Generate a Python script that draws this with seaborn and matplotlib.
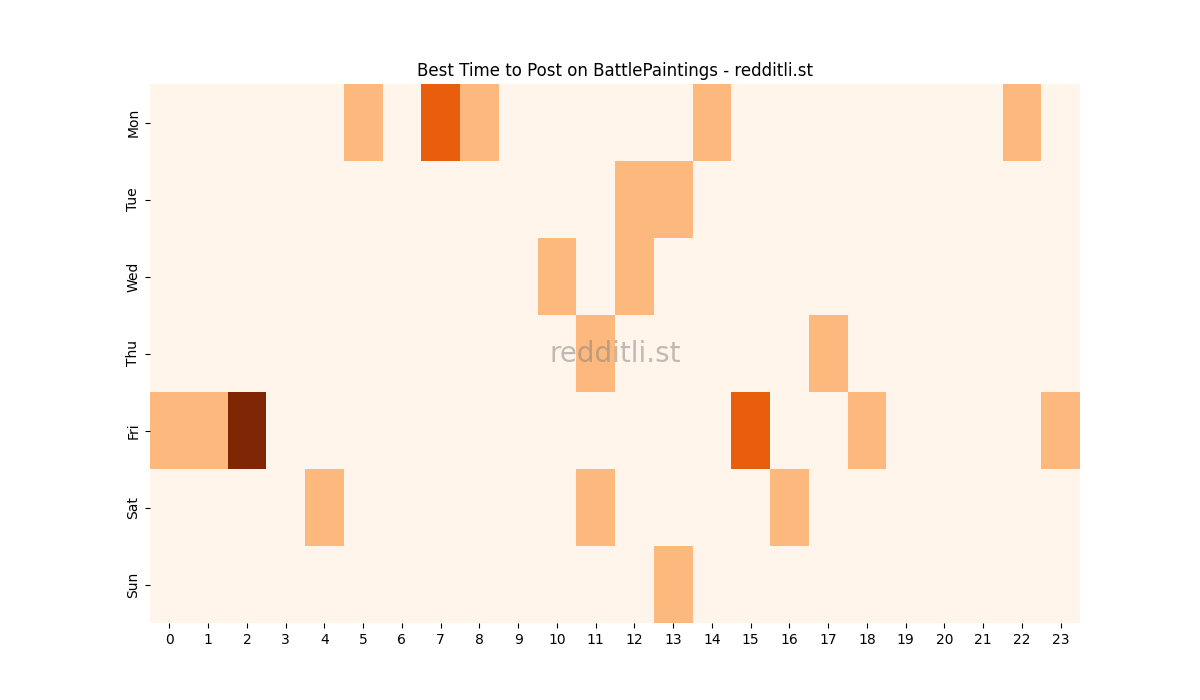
import matplotlib
matplotlib.use("Agg")
import matplotlib.pyplot as plt
import seaborn as sns
import numpy as np
import pandas as pd

days = ["Mon", "Tue", "Wed", "Thu", "Fri", "Sat", "Sun"]
hours = list(range(24))
mon = {5: 1, 7: 2, 8: 1, 14: 1, 22: 1}
tue = {12: 1, 13: 1}
wed = {10: 1, 12: 1}
thu = {11: 1, 17: 1}
fri = {0: 1, 1: 1, 2: 3, 15: 2, 18: 1, 23: 1}
sat = {4: 1, 11: 1, 16: 1}
sun = {13: 1}
rows = [mon, tue, wed, thu, fri, sat, sun]

data = pd.DataFrame([[r.get(h, 0) for h in hours] for r in rows], index=days, columns=hours)

fig, ax = plt.subplots(figsize=(12, 7), dpi=100)
sns.heatmap(data, cmap="Oranges", cbar=False, ax=ax, vmin=0, vmax=3)
ax.set_title("Best Time to Post on BattlePaintings - redditli.st")
ax.set_xlabel("")
ax.set_ylabel("")
ax.text(0.5, 0.5, "redditli.st", transform=ax.transAxes, ha="center", va="center",
        fontsize=20, color="gray", alpha=0.5)
fig.savefig("out.png")
